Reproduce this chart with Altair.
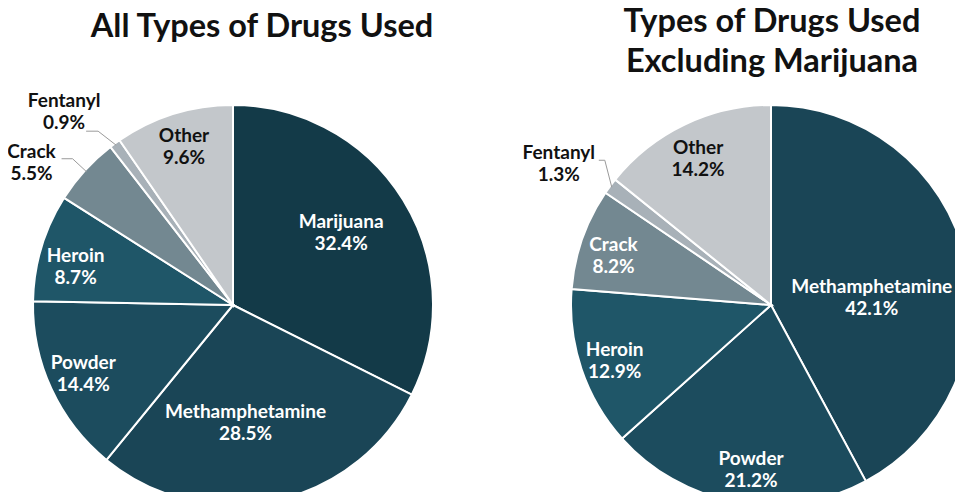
import math
import altair as alt
import pandas as pd

# ---------------- data ----------------
cats_all = ["Marijuana", "Methamphetamine", "Powder", "Heroin", "Crack", "Fentanyl", "Other"]
vals_all = [32.4, 28.5, 14.4, 8.7, 5.5, 0.9, 9.6]

cats_ex = ["Methamphetamine", "Powder", "Heroin", "Crack", "Fentanyl", "Other"]
vals_ex = [42.1, 21.2, 12.9, 8.2, 1.3, 14.2]

title_all = "All Types of Drugs Used"
title_ex = "Types of Drugs Used\nExcluding Marijuana"

# ---------------- style ----------------
COLORS = {
    "Marijuana": "#133a48",
    "Methamphetamine": "#1a4556",
    "Powder": "#1c4c5e",
    "Heroin": "#1f5668",
    "Crack": "#738891",
    "Fentanyl": "#a8b1b8",
    "Other": "#c3c7cb",
}
FONT = "Lato"
W, H = 947, 484
R = 200
LH = 22  # label line height
CENTERS = {"all": (225, 297), "ex": (763, 297)}

# inside label: (radius, angle tweak in degrees, dark text?)
INSIDE = {
    ("all", "Marijuana"): (130, -2, False),
    ("all", "Methamphetamine"): (119, 6, False),
    ("all", "Powder"): (165, 0, False),
    ("all", "Heroin"): (162, -3, False),
    ("all", "Other"): (165, 0, True),
    ("ex", "Methamphetamine"): (101, 10.3, False),
    ("ex", "Powder"): (166, -3, False),
    ("ex", "Heroin"): (166, -1, False),
    ("ex", "Crack"): (165, -2, False),
    ("ex", "Other"): (163, -1, True),
}
# outside label: elbow offset, horizontal length, text offset from line end
OUTSIDE = {
    ("all", "Crack"): ((-14, -13), 11, (-30, 4)),
    ("all", "Fentanyl"): ((-18, -14), 12, (-22, -19)),
    ("ex", "Fentanyl"): ((-7, -27), 6, (-40, 4)),
}

pies = {"all": (cats_all, vals_all), "ex": (cats_ex, vals_ex)}

slice_rows, label_rows, leader_rows = [], [], []
for pie, (cats, vals) in pies.items():
    cx, cy = CENTERS[pie]
    total = sum(vals)
    cum = 0.0
    for i, (c, v) in enumerate(zip(cats, vals)):
        slice_rows.append({"pie": pie, "cat": c, "val": v, "order": i})
        mid = (cum + v / 2) / total * 2 * math.pi
        cum += v
        text = f"{c}\n{v:.1f}%"
        if (pie, c) in INSIDE:
            r, tw, dark = INSIDE[(pie, c)]
            a = mid + math.radians(tw)
            lx, ly = cx + r * math.sin(a), cy - r * math.cos(a)
        else:
            (ex, ey), h, (tx, ty) = OUTSIDE[(pie, c)]
            dark = True
            p1 = (cx + 198 * math.sin(mid), cy - 198 * math.cos(mid))
            p2 = (p1[0] + ex, p1[1] + ey)
            p3 = (p2[0] - h, p2[1])
            for k, p in enumerate([p1, p2, p3]):
                leader_rows.append({"id": pie + c, "k": k, "x": p[0], "y": p[1]})
            lx, ly = p3[0] + tx, p3[1] + ty
        # first line sits at y; shift so the two-line block is centred
        label_rows.append({"pie": pie, "cat": c, "text": text,
                           "x": lx, "y": ly - LH / 2, "dark": dark})

slices = pd.DataFrame(slice_rows)
labels = pd.DataFrame(label_rows)
leaders = pd.DataFrame(leader_rows)

color_scale = alt.Scale(domain=list(COLORS.keys()), range=list(COLORS.values()))


def pie_layer(pie):
    cx, cy = CENTERS[pie]
    return alt.Chart(slices).transform_filter(alt.datum.pie == pie).mark_arc(
        radius=R, stroke="white", strokeWidth=2
    ).encode(
        theta=alt.Theta("val:Q", stack=True),
        color=alt.Color("cat:N", scale=color_scale, legend=None),
        order=alt.Order("order:Q"),
        x=alt.value(cx),
        y=alt.value(cy),
    )


def label_layer(dark):
    return alt.Chart(labels).transform_filter(alt.datum.dark == dark).mark_text(
        font=FONT, fontSize=19, fontWeight="bold", lineBreak="\n", lineHeight=LH,
        align="center", baseline="middle", color="#111111" if dark else "#ffffff",
    ).encode(
        x=alt.X("x:Q", scale=None),
        y=alt.Y("y:Q", scale=None),
        text="text:N",
    )


leader_layer = alt.Chart(leaders).mark_line(color="#9a9a9a", strokeWidth=1).encode(
    x=alt.X("x:Q", scale=None),
    y=alt.Y("y:Q", scale=None),
    detail="id:N",
    order="k:Q",
)

title_left = alt.Chart(pd.DataFrame({"t": [title_all]})).mark_text(
    font=FONT, fontSize=32.5, fontWeight="bold", align="center", baseline="alphabetic",
    color="#111111",
).encode(text="t:N", x=alt.value(254), y=alt.value(29))

title_right = alt.Chart(pd.DataFrame({"t": [title_ex]})).mark_text(
    font=FONT, fontSize=32.5, fontWeight="bold", align="center", baseline="alphabetic",
    color="#111111", lineBreak="\n", lineHeight=40,
).encode(text="t:N", x=alt.value(764), y=alt.value(24))

chart = alt.layer(
    pie_layer("all"), pie_layer("ex"), leader_layer,
    label_layer(False), label_layer(True), title_left, title_right,
).resolve_scale(theta="independent").properties(
    width=W, height=H, padding=0, autosize=alt.AutoSizeParams(type="none"),
).configure_view(strokeWidth=0)

chart.save("out.html", embed_options={"renderer": "svg", "actions": False})
